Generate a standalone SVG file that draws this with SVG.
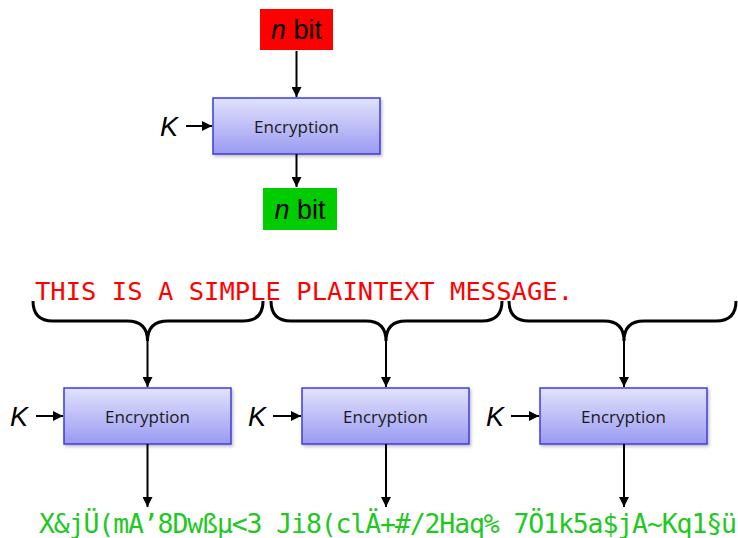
<svg xmlns="http://www.w3.org/2000/svg" width="738" height="538" viewBox="0 0 738 538">
<defs>
<linearGradient id="g" x1="0" y1="0" x2="0" y2="1">
<stop offset="0" stop-color="#e2e2fd"/>
<stop offset="1" stop-color="#9a9af2"/>
</linearGradient>
<filter id="sh" x="-10%" y="-10%" width="130%" height="140%">
<feDropShadow dx="1.5" dy="2" stdDeviation="1.5" flood-color="#000" flood-opacity="0.25"/>
</filter>
<marker id="ah" viewBox="0 0 10 10" refX="10" refY="5" markerWidth="5" markerHeight="5" orient="auto" markerUnits="strokeWidth">
<path d="M0,0 L10,5 L0,10 z" fill="#000"/>
</marker>
</defs>
<style>
.box{fill:url(#g);stroke:#3c3ce0;stroke-width:1.5;filter:url(#sh)}
.lbl{font-family:"Open Sans","Liberation Sans",sans-serif;font-size:17px;fill:#1a1a1a;text-anchor:middle;dominant-baseline:central}
.k{font-family:"Liberation Sans",Arial,sans-serif;font-style:italic;font-size:27px;fill:#000}
.arr{stroke:#000;stroke-width:2;fill:none;marker-end:url(#ah)}
.brace{stroke:#000;stroke-width:3;fill:none}
.nb{font-family:"Liberation Sans",Arial,sans-serif;font-size:27px;fill:#000;text-anchor:middle}
.mono{font-family:"DejaVu Sans Mono","Liberation Mono",monospace}
</style>
<g id="plain-in">
<rect x="260" y="9" width="73" height="41" fill="#ff0000"/>
<text class="nb" x="296.5" y="39"><tspan font-style="italic">n</tspan> bit</text>
</g>
<g id="enc-top">
<rect class="box" x="213" y="98" width="167" height="56"/>
<text class="lbl" x="296.5" y="126">Encryption</text>
</g>
<g id="cipher-out">
<rect x="263" y="188" width="74" height="42" fill="#00cc00"/>
<text class="nb" x="300" y="219"><tspan font-style="italic">n</tspan> bit</text>
</g>
<g id="k-top"><text class="k" x="160" y="136">K</text></g>
<g id="plaintext">
<text class="mono" x="35" y="300" font-size="25.5" fill="#ff0000" textLength="538" lengthAdjust="spacing">THIS IS A SIMPLE PLAINTEXT MESSAGE.</text>
</g>
<g id="enc1">
<rect class="box" x="64" y="388" width="167" height="56"/>
<text class="lbl" x="147.5" y="416">Encryption</text>
</g>
<g id="enc2">
<rect class="box" x="302" y="388" width="167" height="56"/>
<text class="lbl" x="385.5" y="416">Encryption</text>
</g>
<g id="enc3">
<rect class="box" x="540" y="388" width="167" height="56"/>
<text class="lbl" x="623.5" y="416">Encryption</text>
</g>
<g id="k1"><text class="k" x="10" y="426">K</text></g>
<g id="k2"><text class="k" x="248" y="426">K</text></g>
<g id="k3"><text class="k" x="486" y="426">K</text></g>
<g id="ciphertext">
<text class="mono" x="39" y="533" font-size="26.5" fill="#22c822" textLength="698" lengthAdjust="spacing">X&amp;jÜ(mA’8Dwßµ&lt;3 Ji8(clÄ+#/2Haq% 7Ö1k5a$jA~Kq1§ü</text>
</g>
<g id="connectors">
<path class="arr" d="M296.5,51 V97"/>
<path class="arr" d="M296.5,154 V187"/>
<path class="arr" d="M186,126 H212"/>
<path class="brace" d="M33,301 Q33,321 53,321 H127 Q147.5,321 147.5,341 Q147.5,321 168,321 H243 Q263,321 263,301"/>
<path class="brace" d="M271,301 Q271,321 291,321 H366 Q386,321 386,341 Q386,321 406,321 H482 Q502,321 502,301"/>
<path class="brace" d="M509,301 Q509,321 529,321 H604 Q624,321 624,341 Q624,321 644,321 H716 Q736,321 736,301"/>
<path class="arr" d="M147.5,340 V387"/>
<path class="arr" d="M386,340 V387"/>
<path class="arr" d="M624,340 V387"/>
<path class="arr" d="M36,416 H63"/>
<path class="arr" d="M273,416 H301"/>
<path class="arr" d="M511,416 H539"/>
<path class="arr" d="M147.5,444 V507"/>
<path class="arr" d="M386,444 V507"/>
<path class="arr" d="M624,444 V507"/>
</g>
</svg>
